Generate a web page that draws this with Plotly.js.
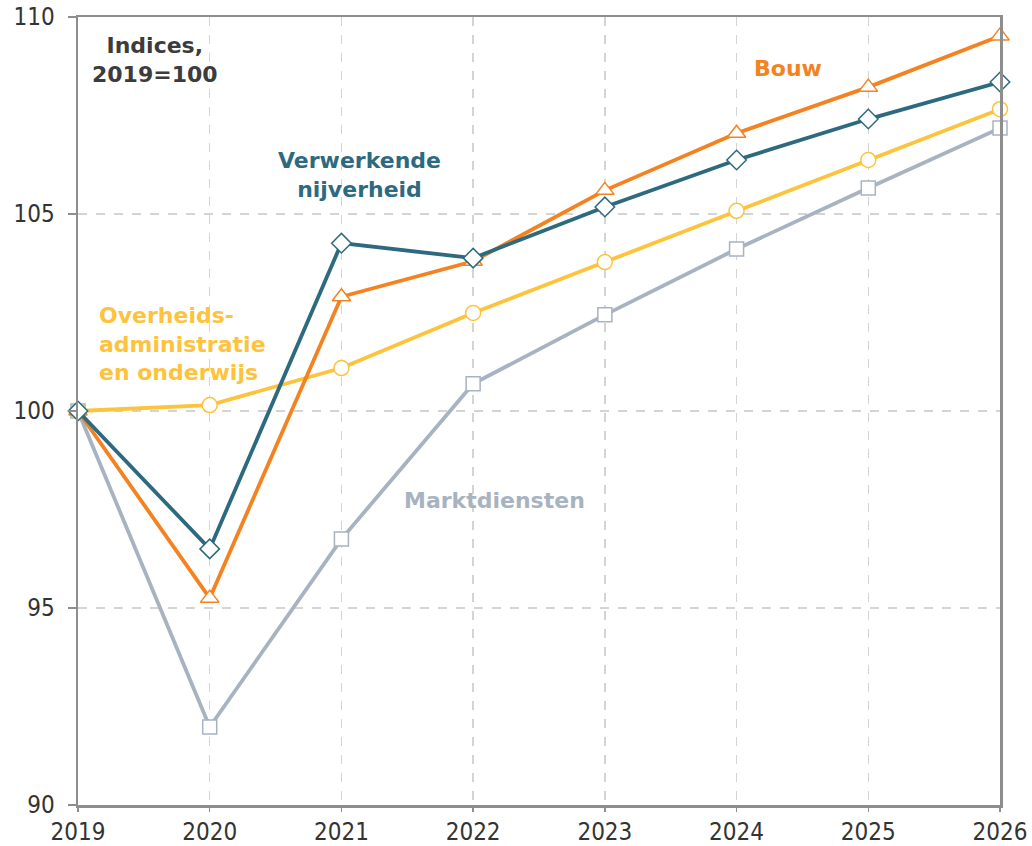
<!DOCTYPE html>
<html><head><meta charset="utf-8">
<script src="https://cdn.plot.ly/plotly-3.0.1.min.js"></script>
<style>body{margin:0;background:#fff}#chart{width:1032px;height:846px}</style>
</head><body><div id="chart"></div>
<script>
const years = [2019, 2020, 2021, 2022, 2023, 2024, 2025, 2026];
const bouw = [100, 95.25, 102.9, 103.8, 105.6, 107.05, 108.22, 109.52];
const verwerkende = [100, 96.5, 104.26, 103.88, 105.18, 106.37, 107.41, 108.35];
const overheid = [100, 100.15, 101.09, 102.49, 103.78, 105.08, 106.37, 107.66];
const markt = [100, 91.98, 96.75, 100.69, 102.44, 104.11, 105.66, 107.18];
const yTicks = [90, 95, 100, 105, 110];

function tr(y, color, symbol, name, size){
  return {x: years, y: y, name: name, type: 'scatter', mode: 'lines+markers',
    line: {color: color, width: 3.8},
    marker: {symbol: symbol, size: size, color: '#ffffff',
      line: {color: color, width: 1.5}},
    cliponaxis: false, hoverinfo: 'skip'};
}
const cOrange = '#f58220', cTeal = '#2d6a7f', cYellow = '#fdc33c', cGrey = '#a8b3c1';
const traces = [
  tr(markt, cGrey, 'square', 'Marktdiensten', 14),
  tr(overheid, cYellow, 'circle', 'Overheidsadministratie en onderwijs', 15),
  tr(bouw, cOrange, 'triangle-up', 'Bouw', 16),
  tr(verwerkende, cTeal, 'diamond', 'Verwerkende nijverheid', 15)
];
const tickFamily = 'DejaVu Sans Condensed, Liberation Sans Narrow, Arial Narrow, DejaVu Sans';
const lblFont = (c) => ({family: 'DejaVu Sans', size: 22, color: c, weight: 'bold'});
const layout = {
  width: 1032, height: 846,
  margin: {l: 78, r: 32, t: 17, b: 41},
  paper_bgcolor: '#fff', plot_bgcolor: '#fff',
  showlegend: false,
  xaxis: {range: [2019, 2026], tickvals: years, ticktext: years.map(String),
    showgrid: true, gridcolor: '#d4d4d4', griddash: 'dash', gridwidth: 1.5,
    showline: true, mirror: true, linecolor: '#8e8e8e', linewidth: 2.5,
    ticks: 'outside', ticklen: 4, tickcolor: '#8e8e8e', tickwidth: 1.5,
    tickfont: {family: tickFamily, size: 24, color: '#333'}, zeroline: false},
  yaxis: {range: [90, 110], tickvals: yTicks,
    showgrid: true, gridcolor: '#d4d4d4', griddash: 'dash', gridwidth: 1.5,
    showline: true, mirror: true, linecolor: '#8e8e8e', linewidth: 2.5,
    ticks: 'outside', ticklen: 8, tickcolor: '#8e8e8e', tickwidth: 1.5,
    ticklabelstandoff: 8,
    tickfont: {family: tickFamily, size: 24, color: '#333'}, zeroline: false},
  annotations: [
    {xref: 'paper', yref: 'paper', x: 0.0835, y: 0.945, xanchor: 'center', yanchor: 'middle',
     text: 'Indices,<br>2019=100', showarrow: false, align: 'center', font: lblFont('#3c3c3c')},
    {xref: 'paper', yref: 'paper', x: 0.77, y: 0.935, xanchor: 'center', yanchor: 'middle',
     text: 'Bouw', showarrow: false, font: lblFont(cOrange)},
    {xref: 'paper', yref: 'paper', x: 0.305, y: 0.8, xanchor: 'center', yanchor: 'middle',
     text: 'Verwerkende<br>nijverheid', showarrow: false, align: 'center', font: lblFont(cTeal)},
    {xref: 'paper', yref: 'paper', x: 0.0206, y: 0.585, xanchor: 'left', yanchor: 'middle',
     text: 'Overheids-<br>administratie<br>en onderwijs', showarrow: false, align: 'left', font: lblFont(cYellow)},
    {xref: 'paper', yref: 'paper', x: 0.351, y: 0.387, xanchor: 'left', yanchor: 'middle',
     text: 'Marktdiensten', showarrow: false, font: lblFont(cGrey)}
  ]
};
Plotly.newPlot('chart', traces, layout, {displayModeBar: false, staticPlot: true});
</script></body></html>
